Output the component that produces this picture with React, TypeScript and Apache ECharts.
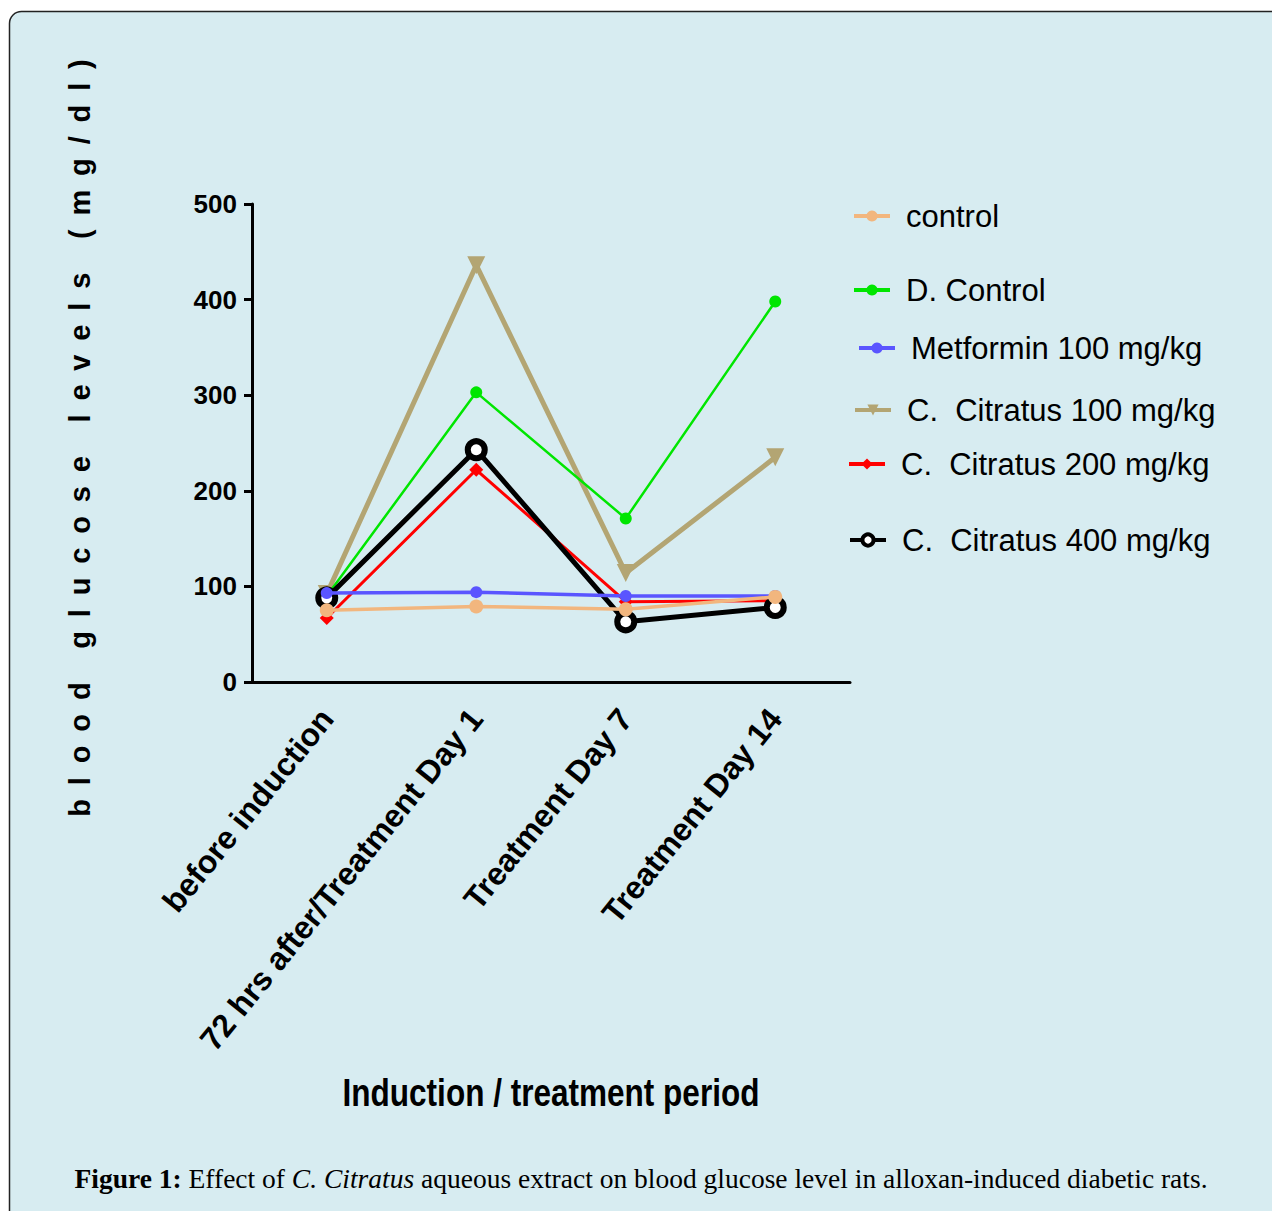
import React, { useEffect, useRef } from "react";
import * as echarts from "echarts";

const categories = [
  "before induction",
  "72 hrs after/Treatment Day 1",
  "Treatment Day 7",
  "Treatment Day 14",
];
const seriesNames = [
  "control",
  "D. Control",
  "Metformin 100 mg/kg",
  "C.  Citratus 100 mg/kg",
  "C.  Citratus 200 mg/kg",
  "C.  Citratus 400 mg/kg",
];
const control = [75, 79, 76, 89];
const dControl = [90, 303, 171, 398];
const metformin = [93, 94, 90, 90];
const citratus100 = [92, 436, 114, 235];
const citratus200 = [67, 222, 84, 85];
const citratus400 = [88, 243, 63, 78];
const yTicks = [0, 100, 200, 300, 400, 500];

const SANS = "'Liberation Sans', Arial, sans-serif";
const SERIF = "'Liberation Serif', serif";

export default function App() {
  const ref = useRef<HTMLDivElement>(null);
  useEffect(() => {
    document.body.style.margin = "0";
    if (!ref.current) return;
    const chart = echarts.init(ref.current, undefined, { renderer: "svg" });

    const styles = [
      { data: control, color: "#f2b67e", fill: "#f2b67e", width: 3.5, symbol: "circle", size: 14, rotate: 0, bw: 0 },
      { data: dControl, color: "#00e600", fill: "#00e600", width: 2.5, symbol: "circle", size: 12, rotate: 0, bw: 0 },
      { data: metformin, color: "#5a55ff", fill: "#5a55ff", width: 3.5, symbol: "circle", size: 12, rotate: 0, bw: 0 },
      { data: citratus100, color: "#b3a573", fill: "#b3a573", width: 5, symbol: "triangle", size: 18, rotate: 180, bw: 0 },
      { data: citratus200, color: "#ff0000", fill: "#ff0000", width: 3, symbol: "diamond", size: 14, rotate: 0, bw: 0 },
      { data: citratus400, color: "#000000", fill: "#ffffff", width: 5, symbol: "circle", size: 17, rotate: 0, bw: 6 },
    ];
    const drawOrder = [3, 1, 4, 5, 2, 0];
    const series = drawOrder.map((i) => {
      const s = styles[i];
      return {
        name: seriesNames[i],
        type: "line",
        data: s.data,
        symbol: s.symbol,
        symbolSize: s.size,
        symbolRotate: s.rotate,
        showAllSymbol: true,
        lineStyle: { color: s.color, width: s.width },
        itemStyle: {
          color: s.fill,
          borderColor: s.color,
          borderWidth: s.bw,
        },
        z: 2 + drawOrder.indexOf(i),
      };
    });

    const legendCy = [216, 290, 348, 410, 464, 540];
    const legendLeft = [852, 852, 857, 853, 847, 848];
    const legends = seriesNames.map((n, i) => ({
      data: [n],
      left: legendLeft[i],
      top: legendCy[i] - 18,
      padding: 0,
      itemWidth: 36,
      itemHeight: 14,
      selectedMode: false,
      lineStyle: { width: 4, color: styles[i].color },
      itemStyle: {
        color: styles[i].fill,
        borderColor: styles[i].color,
        borderWidth: i === 5 ? 4 : 0,
      },
      textStyle: {
        fontFamily: SANS,
        fontSize: 31,
        lineHeight: 36,
        color: "#000",
        padding: [0, 0, 0, 11],
      },
    }));

    const sp = "\u2009 ";
    const word = (w: string) => w.split("").join(sp);
    const wordGap = "\u2009 \u2009 \u2009";
    const yTitle = [word("blood"), word("glucose"), word("levels"), word("(mg/dl)")].join(wordGap);

    const option = {
      animation: false,
      backgroundColor: "#ffffff",
      grid: { left: 252, top: 204, width: 598, height: 478 },
      legend: legends,
      xAxis: {
        type: "category",
        data: categories,
        boundaryGap: true,
        axisLine: { lineStyle: { color: "#000", width: 3 } },
        axisTick: { alignWithLabel: true, length: 10, lineStyle: { color: "#000", width: 3 } },
        axisLabel: {
          rotate: 51,
          interval: 0,
          margin: 31,
          color: "#000",
          fontFamily: SANS,
          fontWeight: "bold",
          fontSize: 32,
        },
        splitLine: { show: false },
      },
      yAxis: {
        type: "value",
        min: yTicks[0],
        max: yTicks[yTicks.length - 1],
        interval: 100,
        axisLine: { show: true, lineStyle: { color: "#000", width: 3 } },
        axisTick: { show: true, length: 8, lineStyle: { color: "#000", width: 3 } },
        axisLabel: {
          margin: 15,
          color: "#000",
          fontFamily: SANS,
          fontWeight: "bold",
          fontSize: 26,
        },
        splitLine: { show: false },
      },
      graphic: [
        {
          type: "rect",
          z: -100,
          shape: { x: 9.5, y: 11.5, width: 1300, height: 1240, r: 12 },
          style: { fill: "#d7ecf1", stroke: "#222", lineWidth: 1.5 },
        },
        {
          type: "text",
          x: 80,
          y: 438,
          rotation: Math.PI / 2,
          style: {
            text: yTitle,
            fontFamily: SANS,
            fontWeight: "bold",
            fontSize: 29,
            fill: "#000",
            align: "center",
            verticalAlign: "middle",
          },
        },
        {
          type: "text",
          x: 551,
          y: 1092,
          scaleX: 0.83,
          style: {
            text: "Induction / treatment period",
            fontFamily: SANS,
            fontWeight: "bold",
            fontSize: 38,
            fill: "#000",
            align: "center",
            verticalAlign: "middle",
          },
        },
        {
          type: "text",
          x: 641,
          y: 1178,
          style: {
            text: "{b|Figure 1:} Effect of {i|C. Citratus} aqueous extract on blood glucose level in alloxan-induced diabetic rats.",
            fontFamily: SERIF,
            fontSize: 27.5,
            fill: "#000",
            align: "center",
            verticalAlign: "middle",
            rich: {
              b: { fontFamily: SERIF, fontSize: 27.5, fontWeight: "bold", fill: "#000" },
              i: { fontFamily: SERIF, fontSize: 27.5, fontStyle: "italic", fill: "#000" },
            },
          },
        },
      ],
      series,
    };
    chart.setOption(option as any);
    return () => chart.dispose();
  }, []);
  return <div ref={ref} style={{ width: 1272, height: 1211 }} />;
}
